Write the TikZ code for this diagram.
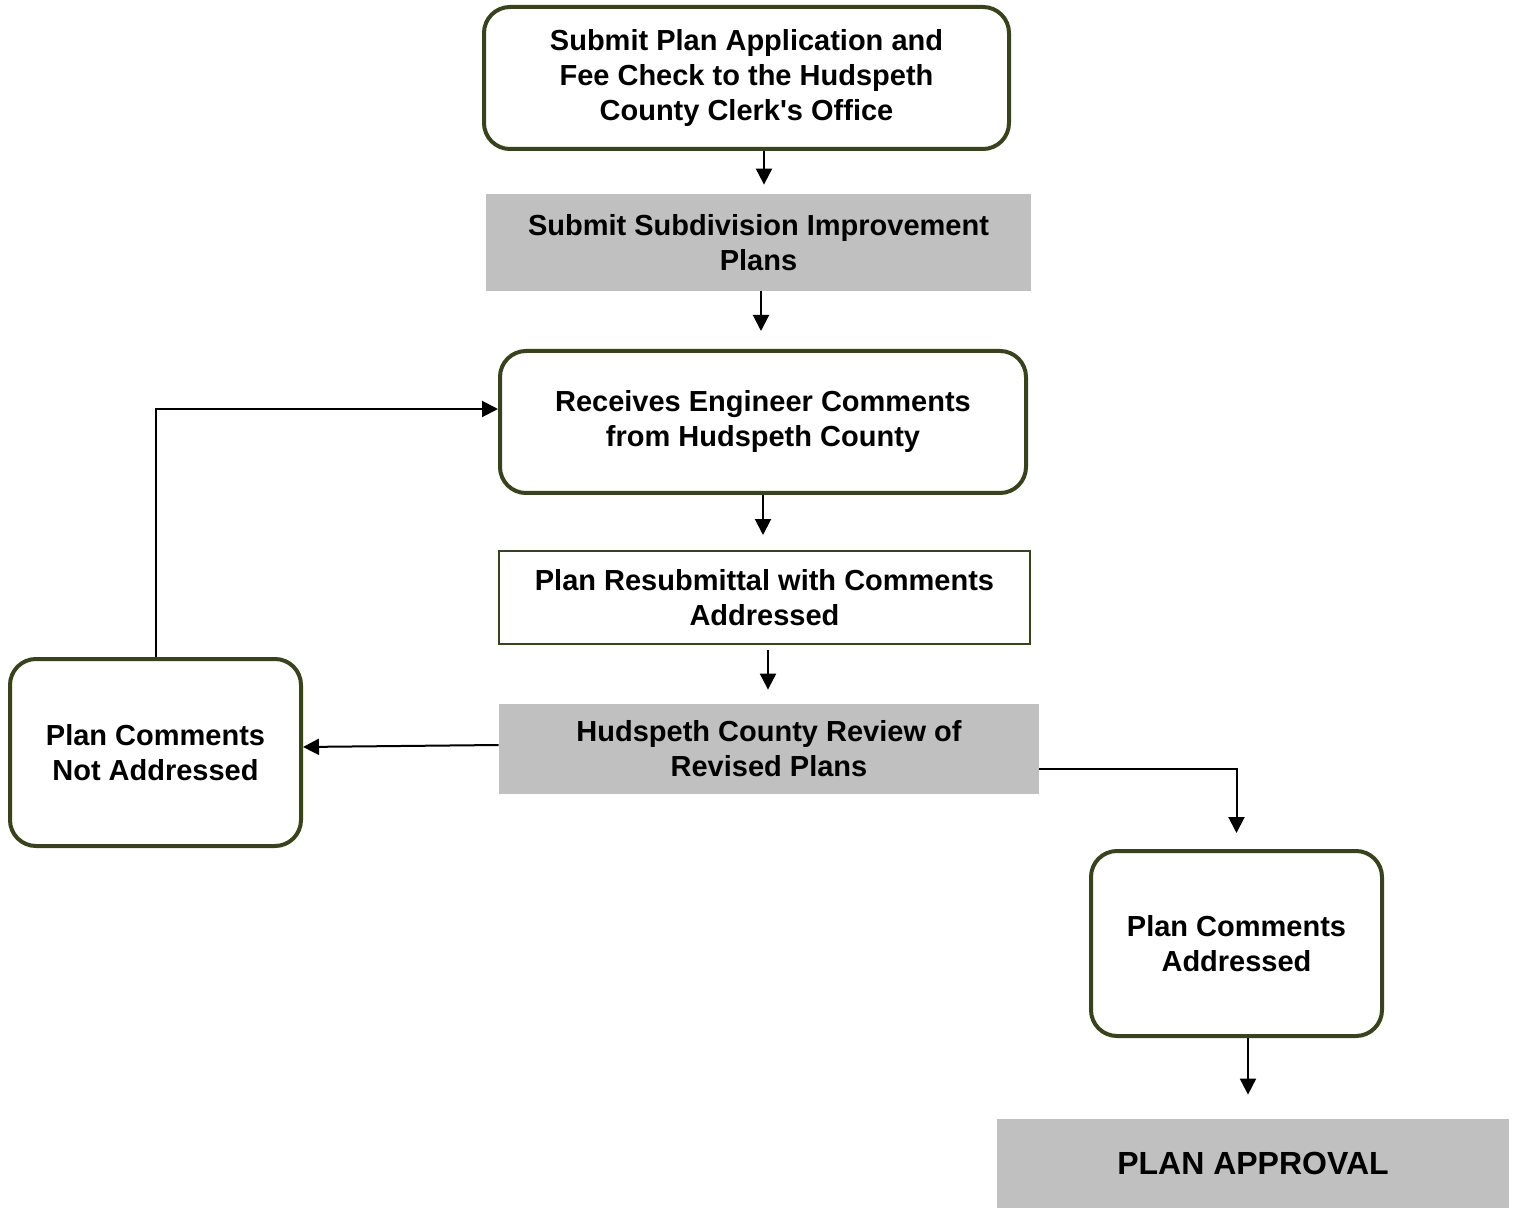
\documentclass[tikz,border=0pt]{standalone}
\usepackage{fontspec}
\setmainfont{Liberation Sans}[Ligatures=TeXOff]
\usetikzlibrary{arrows.meta}
\definecolor{boxline}{RGB}{56,66,28}
\definecolor{boxgray}{RGB}{192,192,192}
\begin{document}
\begin{tikzpicture}[x=0.5pt,y=-0.5pt,
    every node/.style={align=center,inner sep=0pt,font=\bfseries\fontsize{14.5}{17.5}\selectfont},
    rbox/.style={draw=boxline,line width=2pt,rounded corners=13pt},
    gbox/.style={fill=boxgray},
    tbox/.style={draw=boxline,line width=1pt},
    arr/.style={-{Triangle[width=8pt,length=8pt]},line width=1pt}]
  \useasboundingbox (0,0) rectangle (1517,1209);
  \draw
    (746.5,78) node[rbox,minimum width=262.5pt,minimum height=71pt] (sub)
      {Submit Plan Application and\\Fee Check to the Hudspeth\\County Clerk's Office}
    (758.5,242.5) node[gbox,minimum width=272.5pt,minimum height=48.5pt] (plans)
      {Submit Subdivision Improvement\\Plans}
    (763,422) node[rbox,minimum width=263pt,minimum height=71pt] (eng)
      {Receives Engineer Comments\\from Hudspeth County}
    (764.5,597.5) node[tbox,minimum width=265.5pt,minimum height=46.5pt] (resub)
      {Plan Resubmittal with Comments\\Addressed}
    (769,749) node[gbox,minimum width=270pt,minimum height=45pt] (review)
      {Hudspeth County Review of\\Revised Plans}
    (155.5,752.5) node[rbox,minimum width=145.5pt,minimum height=93.5pt] (notadd)
      {Plan Comments\\Not Addressed}
    (1236.5,943.5) node[rbox,minimum width=145.5pt,minimum height=92.5pt] (addr)
      {Plan Comments\\Addressed}
    (1253,1163.5) node[gbox,minimum width=256pt,minimum height=44.5pt,
      font=\bfseries\fontsize{16}{19}\selectfont] (approve) {PLAN APPROVAL};
  \begin{scope}[arr]
    \draw[shorten >=4.5pt] (sub.south -| 764,0) to (plans.north -| 764,0);
    \draw[shorten >=9pt] (plans.south -| 761,0) to (eng.north -| 761,0);
    \draw[shorten >=7.5pt] (eng.south -| 763,0) to (resub.north -| 763,0);
    \draw[shorten <=2.5pt,shorten >=7pt] (resub.south -| 768,0) to (review.north -| 768,0);
    \draw (review.west |- 0,745) to (notadd.east |- 0,747);
    \draw (notadd.north) |- (eng.west |- 0,409);
    \draw[shorten >=8pt] (review.east |- 0,769) -| (addr.north);
    \draw[shorten >=12pt] (addr.south -| 1248,0) to (approve.north -| 1248,0);
  \end{scope}
\end{tikzpicture}
\end{document}
